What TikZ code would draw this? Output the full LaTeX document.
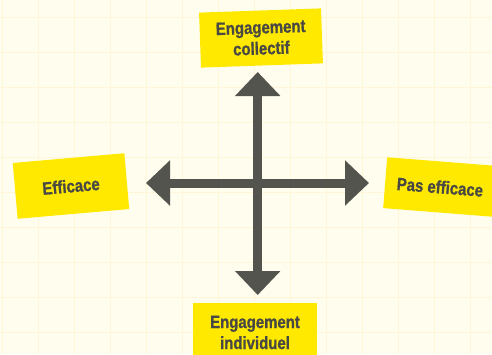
\documentclass[tikz,border=0pt]{standalone}
\usepackage{fontspec}
\setmainfont{Liberation Sans}[FakeStretch=0.84, BoldFeatures={FakeBold=0.9}]
\usetikzlibrary{arrows.meta}
\definecolor{bgcream}{HTML}{FFFDEE}
\definecolor{gridc}{HTML}{FFF6D8}
\definecolor{boxy}{HTML}{FFE900}
\definecolor{txtg}{HTML}{484844}
\definecolor{arrg}{HTML}{54544E}
\tikzset{
  label box/.style={fill=boxy, text=txtg, font=\fontsize{17.8}{21}\selectfont\bfseries,
    align=center, inner sep=0pt},
  big arrow/.style={draw=arrg, line width=9pt,
    {Triangle[width=44pt,length=24pt]}-{Triangle[width=44pt,length=24pt]}}
}
\begin{document}
\begin{tikzpicture}[x=1pt,y=-1pt]
\useasboundingbox (0,0) rectangle (492,354);
\clip (0,0) rectangle (492,354);
\fill[bgcream] (0,0) rectangle (492,354);
\foreach \gx in {2,38,74,110,146,182,218,254,290,326,362,398,434,470}
  \draw[gridc, line width=0.9pt] (\gx,0) -- (\gx,354);
\foreach \gy in {17,52,87,122,157,192,227,262,297,332}
  \draw[gridc, line width=0.9pt] (0,\gy) -- (492,\gy);

\node[label box, minimum width=122pt, minimum height=55pt, rotate=2] (top) at (261,38) {Engagement\\collectif};
\node[label box, minimum width=112pt, minimum height=56pt, rotate=5] (left) at (71,186) {Efficace};
\node[label box, minimum width=110pt, minimum height=51pt, rotate=-4.5] (right) at (440,187) {Pas efficace};
\node[label box, minimum width=124pt, minimum height=59pt] (bottom) at (255,332.5) {Engagement\\individuel};

\coordinate (tT) at (257.7,72);
\coordinate (tB) at (257.7,295);
\coordinate (tL) at (146,183);
\coordinate (tR) at (369,183);
\draw[big arrow] (tL) -- (tR);
\draw[big arrow] (tB) -- (tT);
\end{tikzpicture}
\end{document}
